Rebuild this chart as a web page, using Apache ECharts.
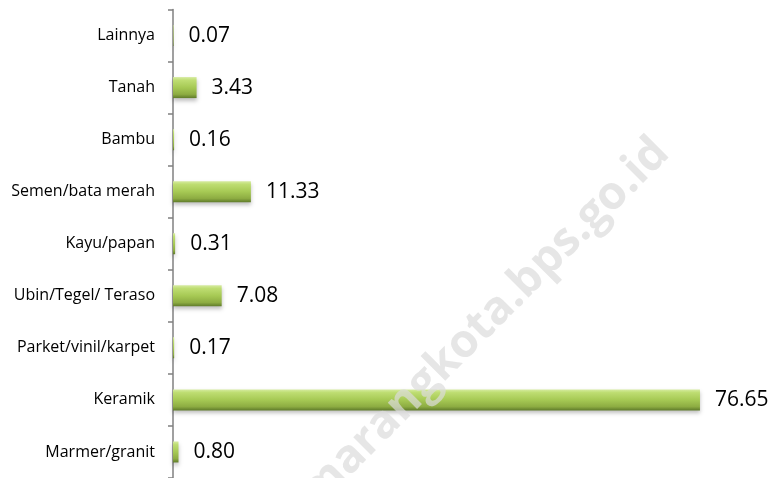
<!DOCTYPE html>
<html>
<head>
<meta charset="utf-8">
<script src="https://cdn.jsdelivr.net/npm/echarts@6/dist/echarts.min.js"></script>
<style>
  html, body { margin: 0; padding: 0; background: #fff; }
  #chart { width: 770px; height: 478px; }
</style>
</head>
<body>
<div id="chart"></div>
<script>
// top to bottom, as in the picture
var categories = ['Lainnya', 'Tanah', 'Bambu', 'Semen/bata merah', 'Kayu/papan',
  'Ubin/Tegel/ Teraso', 'Parket/vinil/karpet', 'Keramik', 'Marmer/granit']
var values = [0.07, 3.43, 0.16, 11.33, 0.31, 7.08, 0.17, 76.65, 0.80]
var watermark = 'semarangkota.bps.go.id'

var chart = echarts.init(document.getElementById('chart'))

var barColor = new echarts.graphic.LinearGradient(0, 0, 0, 1, [
  { offset: 0, color: '#d6eba0' },
  { offset: 0.15, color: '#bedd72' },
  { offset: 0.5, color: '#a6c954' },
  { offset: 0.82, color: '#8dac42' },
  { offset: 1, color: '#5f7b2a' }
])

chart.setOption({
  animation: false,
  grid: {
    left: 173,
    top: 9.5,
    width: 550,
    height: 473
  },
  xAxis: {
    type: 'value',
    min: 0,
    max: 80,
    show: false
  },
  yAxis: {
    type: 'category',
    data: categories,
    inverse: true,
    axisLine: {
      show: true,
      lineStyle: { color: '#808080', width: 1.5 }
    },
    axisTick: {
      show: true,
      length: 5,
      lineStyle: { color: '#808080', width: 1.5 }
    },
    axisLabel: {
      margin: 18,
      color: '#000',
      fontFamily: 'Open Sans',
      fontSize: 16
    }
  },
  series: [{
    type: 'bar',
    data: values,
    barWidth: 21,
    itemStyle: {
      color: barColor,
      shadowColor: 'rgba(0,0,0,0.25)',
      shadowBlur: 4,
      shadowOffsetY: 3
    },
    label: {
      show: true,
      position: 'right',
      distance: 15,
      color: '#000',
      fontFamily: 'Open Sans',
      fontSize: 21,
      formatter: function(p) {
        return p.value.toFixed(2)
      }
    }
  }],
  graphic: [{
    type: 'text',
    x: 678,
    y: 162,
    rotation: Math.PI / 4,
    z: 100,
    silent: true,
    style: {
      text: watermark,
      align: 'right',
      verticalAlign: 'bottom',
      font: 'bold 46px "Open Sans"',
      fill: 'rgba(220,220,220,0.7)'
    }
  }]
})
</script>
</body>
</html>
